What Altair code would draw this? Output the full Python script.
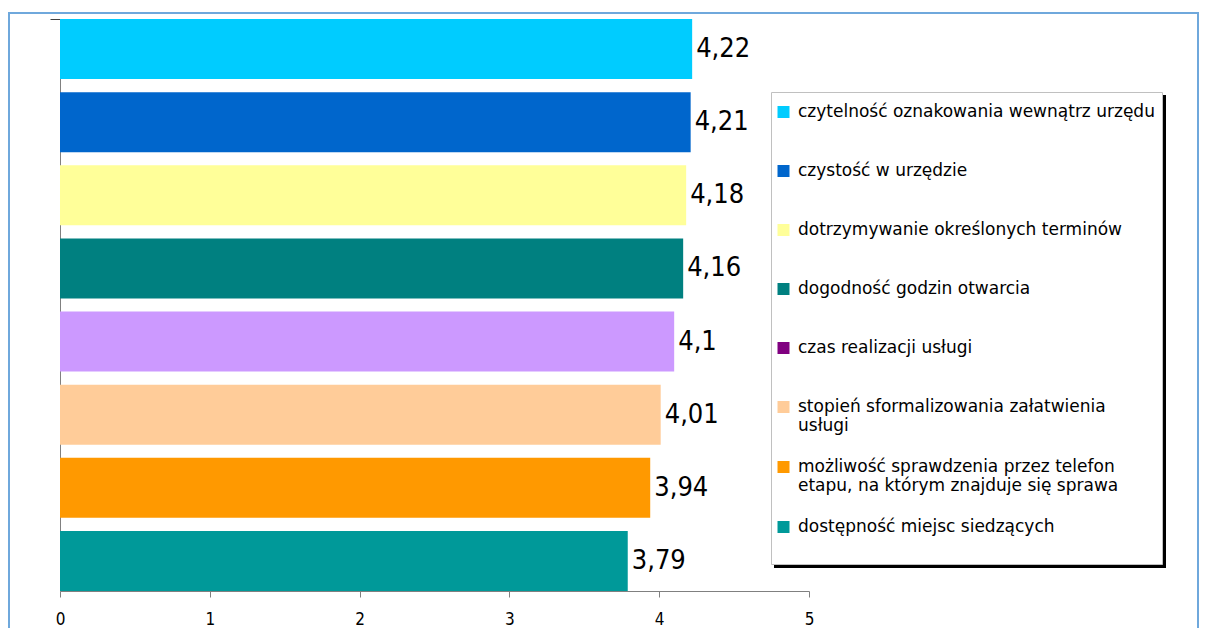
import altair as alt
import pandas as pd

categories = [
    "czytelność oznakowania wewnątrz urzędu",
    "czystość w urzędzie",
    "dotrzymywanie określonych terminów",
    "dogodność godzin otwarcia",
    "czas realizacji usługi",
    "stopień sformalizowania załatwienia\nusługi",
    "możliwość sprawdzenia przez telefon\netapu, na którym znajduje się sprawa",
    "dostępność miejsc siedzących",
]
values = [4.22, 4.21, 4.18, 4.16, 4.1, 4.01, 3.94, 3.79]
bar_colors = ["#00CCFF", "#0066CC", "#FFFF99", "#008080", "#CC99FF", "#FFCC99", "#FF9900", "#009999"]
legend_colors = ["#00CCFF", "#0066CC", "#FFFF99", "#008080", "#800080", "#FFCC99", "#FF9900", "#009999"]
x_ticks = [0, 1, 2, 3, 4, 5]

df = pd.DataFrame({"cat": categories, "value": values})
one = pd.DataFrame({"a": [0]})

W, H = 749, 572
PAD = {"left": 52, "top": 11, "right": 390, "bottom": 37}

x_enc = alt.X(
    "value:Q",
    scale=alt.Scale(domain=[0, 5], nice=False, zero=True),
    axis=alt.Axis(
        values=x_ticks, format="d", title=None, grid=False,
        tickSize=6, tickColor="#808080", domainColor="#808080",
        labelFont="DejaVu Sans Condensed", labelFontSize=17, labelColor="#000000",
        labelPadding=14, labelFlush=False,
    ),
)
y_enc = alt.Y(
    "cat:N", sort=categories,
    scale=alt.Scale(domain=categories, paddingInner=0.18, paddingOuter=0),
    axis=alt.Axis(
        labels=False, title=None, domainColor="#808080",
        ticks=True, bandPosition=0, values=[categories[0]],
        tickSize=10, tickColor="#404040",
    ),
)

frame = alt.Chart(one).mark_rect(fill=None, stroke="#6FA8DC", strokeWidth=2).encode(
    x=alt.value(-51), x2=alt.value(W + PAD["right"] - 1),
    y=alt.value(-6), y2=alt.value(H + 200),
)

legend_src = alt.Chart(df).mark_bar(opacity=0).encode(
    x=x_enc, y=y_enc,
    fill=alt.Fill(
        "cat:N",
        scale=alt.Scale(domain=categories, range=legend_colors),
        legend=alt.Legend(
            title=None, orient="none", legendX=715, legendY=67,
            direction="vertical", columns=1,
            symbolType="square", symbolSize=144, symbolStrokeWidth=0, symbolOpacity=1,
            labelFont="DejaVu Sans", labelFontSize=17, labelColor="#000000",
            labelOffset=6, labelLimit=600, labelBaseline="middle",
            labelExpr="split(datum.label, '\\n')",
            clipHeight=52, rowPadding=7, padding=0,
        ),
    ),
)

bars = alt.Chart(df).mark_bar().encode(
    x=x_enc, y=y_enc,
    color=alt.Color("cat:N", scale=alt.Scale(domain=categories, range=bar_colors), legend=None),
)

labels = alt.Chart(df).transform_calculate(
    label="replace(format(datum.value, '.2~f'), '.', ',')"
).mark_text(
    align="left", baseline="middle", dx=4,
    font="DejaVu Sans Condensed", fontSize=27, color="#000000",
).encode(x=x_enc, y=y_enc, text="label:N")

shadow = alt.Chart(one).mark_rect(fill="#000000").encode(
    x=alt.value(714), x2=alt.value(1106), y=alt.value(76), y2=alt.value(549),
)
legend_box = alt.Chart(one).mark_rect(fill="#FFFFFF", stroke="#C0C0C0", strokeWidth=1).encode(
    x=alt.value(711.5), x2=alt.value(1102.5), y=alt.value(73.5), y2=alt.value(545.5),
)

chart = alt.layer(frame, legend_src, bars, labels, shadow, legend_box).resolve_scale(
    color="independent", fill="independent"
).properties(
    width=W, height=H,
    autosize=alt.AutoSizeParams(type="none"),
    padding=PAD,
    background="#FFFFFF",
).configure_view(stroke=None)

chart.save("out.html", embed_options={"renderer": "svg", "actions": False})
